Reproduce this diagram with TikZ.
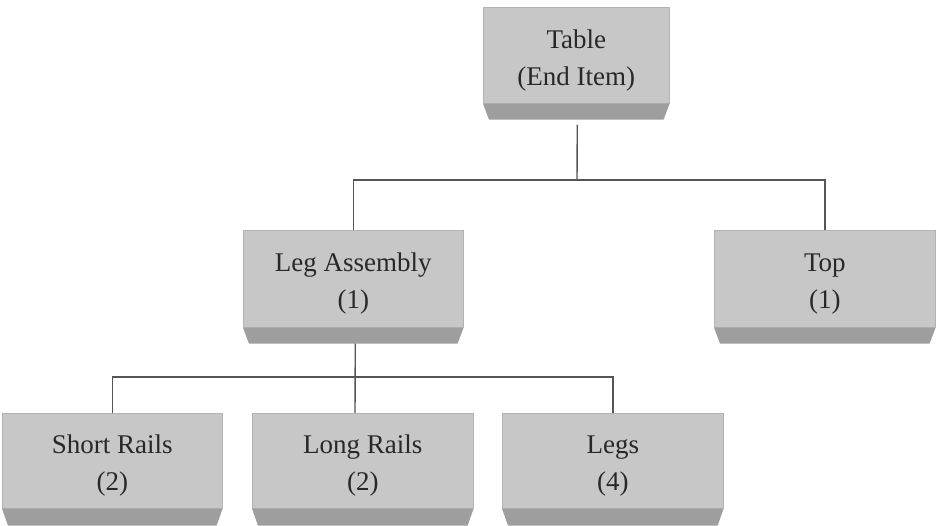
\documentclass[tikz,border=0pt]{standalone}
\usepackage{fontspec}
\setmainfont{Liberation Serif}
\definecolor{facegray}{RGB}{199,199,199}
\definecolor{bevelgray}{RGB}{158,158,158}
\definecolor{linegray}{RGB}{85,85,85}
\definecolor{inkgray}{RGB}{40,40,40}
\tikzset{
  face/.style={fill=facegray, draw=facegray!90!black, line width=0.6pt, inner sep=0pt, anchor=north west},
  bevel/.style={fill=bevelgray, draw=none},
  label text/.style={align=center, text=inkgray, font=\fontsize{27}{37}\selectfont, inner sep=0pt},
  conn/.style={draw=linegray, line width=1.4pt},
}
% #1 name, #2 left, #3 top, #4 width, #5 face height, #6 bevel height, #7 text
\newcommand\partbox[7]{%
  \node[face, minimum width=#4pt, minimum height=#5pt] (#1) at (#2,#3) {};
  \fill[bevel] (#1.south west) -- (#1.south east)
     -- ([xshift=-6pt,yshift=-#6pt]#1.south east)
     -- ([xshift=6pt,yshift=-#6pt]#1.south west) -- cycle;
  \coordinate (#1-base) at ([yshift=-#6pt]#1.south);
  \node[label text] (#1-t) at ([yshift=-5pt]#1.center) {#7};
}
\begin{document}
\begin{tikzpicture}[x=1pt,y=-1pt]
\useasboundingbox[fill=white] (0,0) rectangle (937,526);

\partbox{table}{483}{7}{186}{96}{16}{Table\\(End Item)}
\partbox{leg}{243}{230}{220}{97}{16}{Leg Assembly\\(1)}
\partbox{top}{714}{230}{221}{97}{16}{Top\\(1)}
\partbox{short}{2}{413}{220}{95}{17}{Short Rails\\(2)}
\partbox{long}{252}{413}{221}{95}{17}{Long Rails\\(2)}
\partbox{legs}{502}{413}{221}{95}{17}{Legs\\(4)}

% first level of the tree
\coordinate (j1) at (577,180);
\draw[conn] ([xshift=1pt,yshift=-5pt]table-base) -- (j1);
\draw[conn] (leg.north) |- (j1) -| (top.north);

% second level of the tree
\coordinate (j2) at (355,377);
\draw[conn] ([xshift=2pt]leg-base) -- (j2 |- long.north);
\draw[conn] (short.north) |- (j2) -| (legs.north);
\end{tikzpicture}
\end{document}
